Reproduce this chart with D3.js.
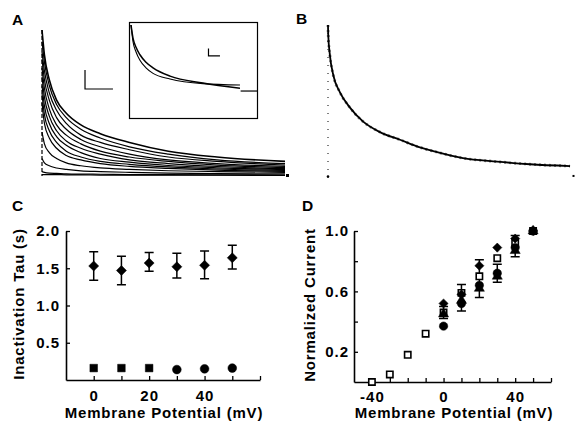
<!DOCTYPE html>
<html>
<head>
<meta charset="utf-8">
<script src="https://cdn.jsdelivr.net/npm/d3@7"></script>
<style>
  body { margin: 0; background: #fff; }
  svg { display: block; font-family: "Liberation Sans", Arial, sans-serif; }
</style>
</head>
<body>
<div id="fig"></div>
<script>
// ---- panel A : family of inactivating currents (relative amplitude) ----
var timeA = [0, 0.05, 0.15, 0.3, 0.5, 0.8, 1.2, 1.8, 2.6, 3.6, 5.0];
var tracesA = [
  [1.00, 0.83, 0.66, 0.52, 0.43, 0.35, 0.29, 0.23, 0.17, 0.13, 0.100],
  [0.92, 0.78, 0.62, 0.49, 0.40, 0.32, 0.26, 0.20, 0.15, 0.11, 0.085],
  [0.85, 0.72, 0.57, 0.45, 0.36, 0.28, 0.23, 0.18, 0.13, 0.10, 0.075],
  [0.80, 0.66, 0.52, 0.40, 0.32, 0.25, 0.20, 0.15, 0.11, 0.085, 0.065],
  [0.74, 0.60, 0.46, 0.35, 0.28, 0.22, 0.17, 0.13, 0.10, 0.075, 0.058],
  [0.68, 0.54, 0.41, 0.31, 0.24, 0.19, 0.15, 0.11, 0.085, 0.065, 0.050],
  [0.62, 0.48, 0.36, 0.27, 0.21, 0.16, 0.12, 0.095, 0.072, 0.056, 0.044],
  [0.56, 0.42, 0.31, 0.23, 0.17, 0.13, 0.10, 0.080, 0.062, 0.048, 0.038],
  [0.50, 0.36, 0.26, 0.19, 0.14, 0.11, 0.085, 0.066, 0.052, 0.040, 0.032],
  [0.30, 0.22, 0.16, 0.12, 0.09, 0.07, 0.055, 0.045, 0.036, 0.030, 0.025],
  [0.12, 0.09, 0.07, 0.055, 0.045, 0.035, 0.030, 0.025, 0.020, 0.016, 0.014],
  [0.03, 0.025, 0.020, 0.018, 0.015, 0.013, 0.012, 0.010, 0.009, 0.008, 0.007],
  [0.01, 0.01, 0.01, 0.01, 0.008, 0.008, 0.006, 0.006, 0.005, 0.005, 0.004]
];
var scaleBarA = { t0: 0.885, t1: 1.46, a0: 0.596, a1: 0.726 };

// inset of A : recorded trace and fit
var timeInset = [0, 0.016, 0.04, 0.071, 0.119, 0.175, 0.31, 0.571, 0.865];
var insetTrace = [1.0, 0.82, 0.71, 0.62, 0.54, 0.48, 0.42, 0.37, 0.355];
var insetFit = [1.0, 0.86, 0.76, 0.68, 0.60, 0.54, 0.45, 0.376, 0.32];
var insetTailT = [0.87, 1.0];
var insetTailA = [0.29, 0.29];
var scaleBarInset = { t0: 0.615, t1: 0.706, a0: 0.667, a1: 0.747 };

// ---- panel B : single trace ----
var timeB = [0, 0.001, 0.008, 0.022, 0.049, 0.09, 0.143, 0.213, 0.295, 0.377, 0.445, 0.553, 0.693, 0.828, 0.992];
var traceB = [1.0, 0.935, 0.80, 0.67, 0.56, 0.46, 0.37, 0.30, 0.25, 0.20, 0.17, 0.13, 0.107, 0.09, 0.078];

// ---- panel C : inactivation tau vs potential ----
var vC = [0, 10, 20, 30, 40, 50];
var tauSlow = [1.53, 1.47, 1.57, 1.52, 1.54, 1.64];
var tauSlowHi = [1.72, 1.66, 1.71, 1.70, 1.73, 1.81];
var tauSlowLo = [1.34, 1.28, 1.46, 1.37, 1.36, 1.49];
var vCsq = [0, 10, 20];
var tauFastSq = [0.16, 0.16, 0.16];
var vCci = [30, 40, 50];
var tauFastCi = [0.14, 0.15, 0.16];
var ticksC = [0, 10, 20, 30, 40, 50, 60];
var labelsC = [0, 20, 40];
var ticksCy = [0.5, 1.0, 1.5, 2.0];

// ---- panel D : normalized current vs potential ----
var vDsq = [-40, -30, -20, -10, 0, 10, 20, 30, 40, 50];
var curOpenSq = [0.0, 0.05, 0.18, 0.32, 0.46, 0.59, 0.70, 0.82, 0.92, 1.0];
var vD = [0, 10, 20, 30, 40, 50];
var curDiamond = [0.52, 0.58, 0.77, 0.89, 0.95, 1.0];
var curTriangle = [0.45, 0.54, 0.62, 0.70, 0.87, 1.0];
var curCircle = [0.37, 0.52, 0.64, 0.72, 0.89, 1.0];
var vDerr = [0, 10, 20, 30, 40];
var errHi = [0.50, 0.645, 0.81, 0.78, 0.97];
var errLo = [0.42, 0.47, 0.56, 0.66, 0.83];
var ticksD = [-40, -30, -20, -10, 0, 10, 20, 30, 40, 50, 60];
var labelsD = [-40, 0, 40];
var ticksDy = [0.2, 0.4, 0.6, 0.8, 1.0];
var labelsDy = [0.2, 0.6, 1.0];

var W = 576, H = 425;
var svg = d3.select("#fig").append("svg").attr("width", W).attr("height", H);
svg.append("rect").attr("width", W).attr("height", H).attr("fill", "#fff");

// ================= A =================
var xA = d3.scaleLinear().domain([0, 5]).range([42, 285]);
var yA = d3.scaleLinear().domain([0, 1]).range([176, 30]);
var lineA = d3.line()
  .x(function(d, i) { return xA(timeA[i]); })
  .y(function(d) { return yA(d); })
  .curve(d3.curveMonotoneX);

svg.append("line")
  .attr("x1", xA(0)).attr("x2", xA(0))
  .attr("y1", yA(1)).attr("y2", yA(0))
  .attr("stroke", "#000").attr("stroke-width", 1.2)
  .attr("stroke-dasharray", "4,2");

svg.append("g").selectAll("path")
  .data(tracesA)
  .join("path")
  .attr("d", lineA)
  .attr("fill", "none")
  .attr("stroke", "#000")
  .attr("stroke-width", function(d, i) { return i == 0 ? 1.6 : 1.2; });

svg.append("rect")
  .attr("x", xA(5) + 1).attr("y", yA(0) - 2)
  .attr("width", 3).attr("height", 3).attr("fill", "#000");

function scaleBar(g, x, y, b) {
  g.append("path")
    .attr("d", "M" + x(b.t0) + "," + y(b.a1) + "V" + y(b.a0) + "H" + x(b.t1))
    .attr("fill", "none").attr("stroke", "#000").attr("stroke-width", 1.2);
}
scaleBar(svg, xA, yA, scaleBarA);

// inset
var xI = d3.scaleLinear().domain([0, 1]).range([131, 257]);
var yI = d3.scaleLinear().domain([0, 1]).range([118, 25]);
svg.append("rect")
  .attr("x", 129.5).attr("y", 22.5).attr("width", 128).attr("height", 96)
  .attr("fill", "#fff").attr("stroke", "#000").attr("stroke-width", 1.2);
var lineI = d3.line()
  .x(function(d, i) { return xI(timeInset[i]); })
  .y(function(d) { return yI(d); })
  .curve(d3.curveMonotoneX);
[insetTrace, insetFit].forEach(function(s, k) {
  svg.append("path").attr("d", lineI(s))
    .attr("fill", "none").attr("stroke", "#000").attr("stroke-width", k == 0 ? 1.1 : 1.5);
});
svg.append("line")
  .attr("x1", xI(insetTailT[0])).attr("x2", xI(insetTailT[1]))
  .attr("y1", yI(insetTailA[0])).attr("y2", yI(insetTailA[1]))
  .attr("stroke", "#000").attr("stroke-width", 1.2);
scaleBar(svg, xI, yI, scaleBarInset);

// ================= B =================
var xB = d3.scaleLinear().domain([0, 1]).range([328, 572]);
var yB = d3.scaleLinear().domain([0, 1]).range([178, 25]);
svg.append("line")
  .attr("x1", xB(0)).attr("x2", xB(0))
  .attr("y1", yB(1)).attr("y2", yB(0))
  .attr("stroke", "#000").attr("stroke-width", 1)
  .attr("stroke-dasharray", "1,7");
svg.append("circle").attr("cx", xB(0)).attr("cy", yB(0.01)).attr("r", 1.3).attr("fill", "#000");
var lineB = d3.line()
  .x(function(d, i) { return xB(timeB[i]); })
  .y(function(d) { return yB(d); })
  .curve(d3.curveMonotoneX);
svg.append("path").attr("d", lineB(traceB))
  .attr("fill", "none").attr("stroke", "#000").attr("stroke-width", 1.8);
svg.append("path").attr("d", lineB(traceB))
  .attr("fill", "none").attr("stroke", "#000").attr("stroke-width", 2.8)
  .attr("stroke-dasharray", "2,3").attr("opacity", 0.5);
svg.append("rect").attr("x", xB(1) + 0.5).attr("y", yB(0.02)).attr("width", 2).attr("height", 2).attr("fill", "#000");

// ---- panel letters ----
var letters = [["A", 12, 25], ["B", 296, 24], ["C", 12, 211], ["D", 302, 211]];
svg.selectAll("text.letter").data(letters).join("text")
  .attr("class", "letter")
  .attr("x", function(d) { return d[1]; })
  .attr("y", function(d) { return d[2]; })
  .attr("font-size", 15.5).attr("font-weight", "bold")
  .text(function(d) { return d[0]; });

function styleAxis(g) {
  g.attr("font-family", null).attr("font-size", null);
  g.select(".domain").attr("stroke-width", 1.6);
  g.selectAll(".tick line").attr("stroke-width", 1.3);
  g.selectAll(".tick text")
    .attr("font-size", 15).attr("font-weight", "bold")
    .attr("letter-spacing", 1).attr("fill", "#000");
}

function marker(g, xs, ys, xScale, yScale, type, size, open, rot) {
  g.append("g").selectAll("path")
    .data(ys)
    .join("path")
    .attr("d", d3.symbol().type(type).size(size))
    .attr("transform", function(d, i) {
      return "translate(" + xScale(xs[i]) + "," + yScale(d) + ")" + (rot ? " rotate(45)" : "");
    })
    .attr("fill", open ? "#fff" : "#000")
    .attr("stroke", "#000")
    .attr("stroke-width", open ? 1.6 : 0.5);
}

function errBars(g, xs, hi, lo, xScale, yScale, cap) {
  var eg = g.append("g").attr("stroke", "#000").attr("stroke-width", 1.5);
  xs.forEach(function(v, i) {
    var x = xScale(v);
    eg.append("path")
      .attr("d", "M" + (x - cap) + "," + yScale(hi[i]) + "H" + (x + cap) +
        "M" + x + "," + yScale(hi[i]) + "V" + yScale(lo[i]) +
        "M" + (x - cap) + "," + yScale(lo[i]) + "H" + (x + cap))
      .attr("fill", "none");
  });
}

// ================= C =================
var xC = d3.scaleLinear().domain([-10, 60]).range([66, 260]);
var yC = d3.scaleLinear().domain([0, 2]).range([380, 231]);

svg.append("g").attr("transform", "translate(0,380)")
  .call(d3.axisBottom(xC).tickValues(ticksC).tickSizeInner(-4).tickSizeOuter(0).tickPadding(10)
    .tickFormat(function(d) { return labelsC.indexOf(d) >= 0 ? d : ""; }))
  .call(styleAxis);
svg.append("g").attr("transform", "translate(66,0)")
  .call(d3.axisLeft(yC).tickValues(ticksCy).tickSizeInner(-4).tickSizeOuter(0).tickPadding(6)
    .tickFormat(d3.format(".1f")))
  .call(styleAxis);

errBars(svg, vC, tauSlowHi, tauSlowLo, xC, yC, 4.5);
marker(svg, vC, tauSlow, xC, yC, d3.symbolSquare, 50, false, true);
marker(svg, vCsq, tauFastSq, xC, yC, d3.symbolSquare, 58, false, false);
marker(svg, vCci, tauFastCi, xC, yC, d3.symbolCircle, 60, false, false);

svg.append("text")
  .attr("transform", "translate(23.5,304) rotate(-90)")
  .attr("text-anchor", "middle").attr("font-size", 15).attr("font-weight", "bold")
  .attr("letter-spacing", 0.8)
  .text("Inactivation Tau (s)");
svg.append("text")
  .attr("x", 164).attr("y", 418)
  .attr("text-anchor", "middle").attr("font-size", 15).attr("font-weight", "bold")
  .attr("letter-spacing", 0.8)
  .text("Membrane Potential (mV)");

// ================= D =================
var xD = d3.scaleLinear().domain([-50, 60]).range([354, 551]);
var yD = d3.scaleLinear().domain([0, 1]).range([382, 231]);

svg.append("g").attr("transform", "translate(0,382)")
  .call(d3.axisBottom(xD).tickValues(ticksD).tickSizeInner(-4).tickSizeOuter(0).tickPadding(9)
    .tickFormat(function(d) { return labelsD.indexOf(d) >= 0 ? d : ""; }))
  .call(styleAxis);
svg.append("g").attr("transform", "translate(354,0)")
  .call(d3.axisLeft(yD).tickValues(ticksDy).tickSizeInner(-4).tickSizeOuter(0).tickPadding(5)
    .tickFormat(function(d) { return labelsDy.indexOf(d) >= 0 ? d3.format(".1f")(d) : ""; }))
  .call(styleAxis);
// use a plain hyphen like the original labels
svg.selectAll("text").filter(function() { return this.textContent.indexOf("\u2212") >= 0; })
  .text(function() { return this.textContent.replace("\u2212", "-"); });

errBars(svg, vDerr, errHi, errLo, xD, yD, 4.5);
marker(svg, vDsq, curOpenSq, xD, yD, d3.symbolSquare, 40, true, false);
marker(svg, vD, curCircle, xD, yD, d3.symbolCircle, 56, false, false);
marker(svg, vD, curTriangle, xD, yD, d3.symbolTriangle, 44, false, false);
marker(svg, vD, curDiamond, xD, yD, d3.symbolSquare, 42, false, true);

svg.append("text")
  .attr("transform", "translate(315,305) rotate(-90)")
  .attr("text-anchor", "middle").attr("font-size", 15).attr("font-weight", "bold")
  .attr("letter-spacing", 0.8)
  .text("Normalized Current");
svg.append("text")
  .attr("x", 454).attr("y", 418)
  .attr("text-anchor", "middle").attr("font-size", 15).attr("font-weight", "bold")
  .attr("letter-spacing", 0.8)
  .text("Membrane Potential (mV)");
</script>
</body>
</html>
